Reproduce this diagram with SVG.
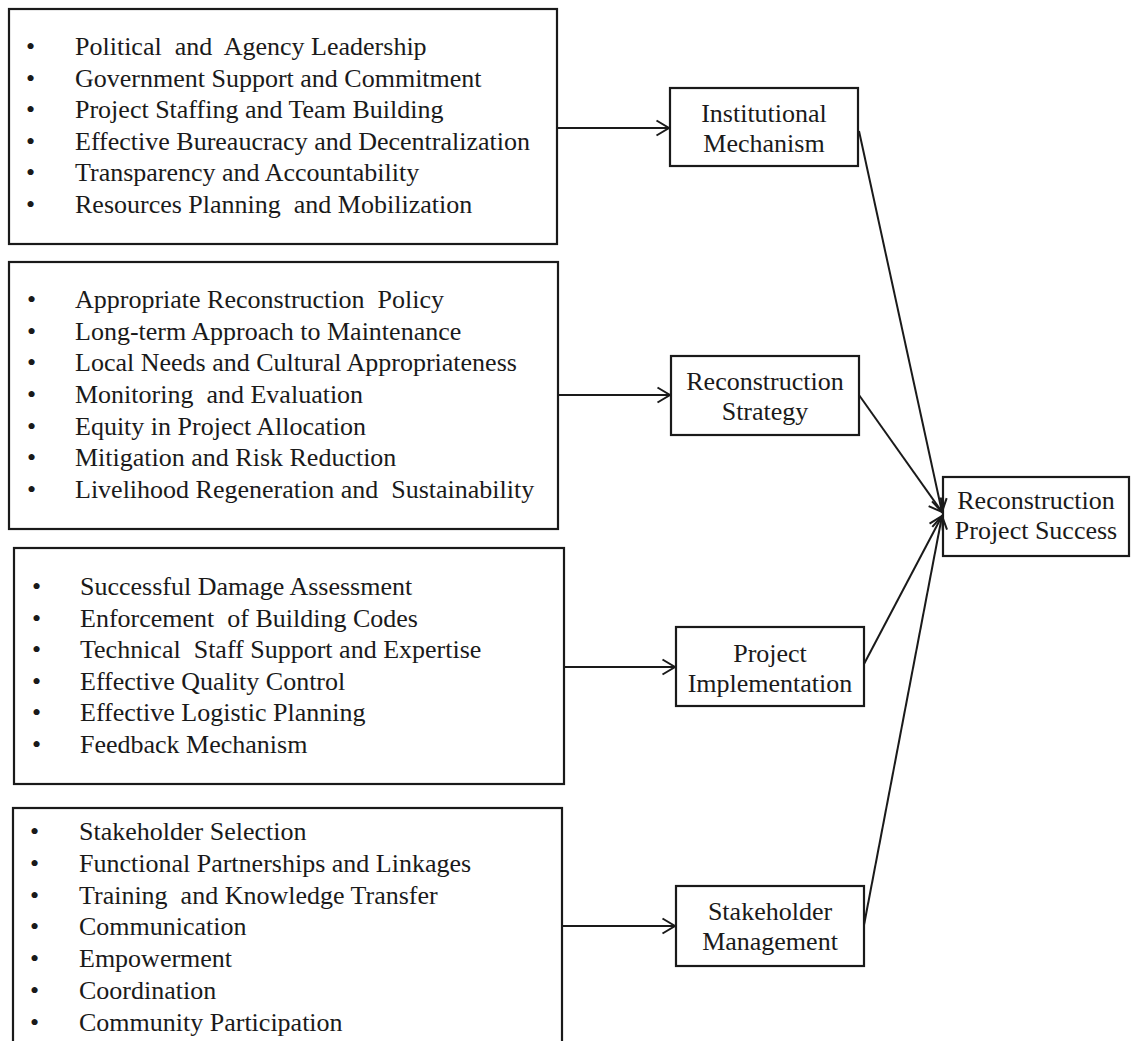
<svg xmlns="http://www.w3.org/2000/svg" width="1134" height="1041" viewBox="0 0 1134 1041">
<style>
  .box { fill: #ffffff; stroke: #1a1a1a; stroke-width: 2.2; }
  text { font-family: "Liberation Serif", "Times New Roman", serif; font-size: 26px; fill: #1a1a1a; white-space: pre; }
  .c { text-anchor: middle; }
  .edge { stroke: #1a1a1a; stroke-width: 2; fill: none; }
</style>
<defs>
  <marker id="arr" markerUnits="userSpaceOnUse" markerWidth="16" markerHeight="18" viewBox="0 0 16 18" refX="14" refY="9" orient="auto">
    <path d="M1.5,1.5 L14,9 L1.5,16.5" fill="none" stroke="#1a1a1a" stroke-width="2"/>
  </marker>
</defs>
<rect width="1134" height="1041" fill="#ffffff"/>

<g id="list-institutional">
  <rect class="box" x="9" y="9" width="548" height="235"/>
  <text x="26" y="55">•</text><text x="75" y="55">Political  and  Agency Leadership</text>
  <text x="26" y="87">•</text><text x="75" y="87">Government Support and Commitment</text>
  <text x="26" y="118">•</text><text x="75" y="118">Project Staffing and Team Building</text>
  <text x="26" y="150">•</text><text x="75" y="150">Effective Bureaucracy and Decentralization</text>
  <text x="26" y="181">•</text><text x="75" y="181">Transparency and Accountability</text>
  <text x="26" y="213">•</text><text x="75" y="213">Resources Planning  and Mobilization</text>
</g>

<g id="list-strategy">
  <rect class="box" x="9" y="262" width="549" height="267"/>
  <text x="27" y="308">•</text><text x="75" y="308">Appropriate Reconstruction  Policy</text>
  <text x="27" y="340">•</text><text x="75" y="340">Long-term Approach to Maintenance</text>
  <text x="27" y="371">•</text><text x="75" y="371">Local Needs and Cultural Appropriateness</text>
  <text x="27" y="403">•</text><text x="75" y="403">Monitoring  and Evaluation</text>
  <text x="27" y="435">•</text><text x="75" y="435">Equity in Project Allocation</text>
  <text x="27" y="466">•</text><text x="75" y="466">Mitigation and Risk Reduction</text>
  <text x="27" y="498">•</text><text x="75" y="498">Livelihood Regeneration and  Sustainability</text>
</g>

<g id="list-implementation">
  <rect class="box" x="14" y="548" width="550" height="236"/>
  <text x="32" y="595">•</text><text x="80" y="595">Successful Damage Assessment</text>
  <text x="32" y="627">•</text><text x="80" y="627">Enforcement  of Building Codes</text>
  <text x="32" y="658">•</text><text x="80" y="658">Technical  Staff Support and Expertise</text>
  <text x="32" y="690">•</text><text x="80" y="690">Effective Quality Control</text>
  <text x="32" y="721">•</text><text x="80" y="721">Effective Logistic Planning</text>
  <text x="32" y="753">•</text><text x="80" y="753">Feedback Mechanism</text>
</g>

<g id="list-stakeholder">
  <rect class="box" x="13" y="808" width="549" height="245"/>
  <text x="30" y="840">•</text><text x="79" y="840">Stakeholder Selection</text>
  <text x="30" y="872">•</text><text x="79" y="872">Functional Partnerships and Linkages</text>
  <text x="30" y="904">•</text><text x="79" y="904">Training  and Knowledge Transfer</text>
  <text x="30" y="935">•</text><text x="79" y="935">Communication</text>
  <text x="30" y="967">•</text><text x="79" y="967">Empowerment</text>
  <text x="30" y="999">•</text><text x="79" y="999">Coordination</text>
  <text x="30" y="1031">•</text><text x="79" y="1031">Community Participation</text>
</g>

<g id="node-institutional">
  <rect class="box" x="670" y="88" width="188" height="78"/>
  <text class="c" x="764" y="122">Institutional</text>
  <text class="c" x="764" y="152">Mechanism</text>
</g>

<g id="node-strategy">
  <rect class="box" x="671" y="356" width="188" height="79"/>
  <text class="c" x="765" y="390">Reconstruction</text>
  <text class="c" x="765" y="420">Strategy</text>
</g>

<g id="node-implementation">
  <rect class="box" x="676" y="627" width="188" height="79"/>
  <text class="c" x="770" y="662">Project</text>
  <text class="c" x="770" y="692">Implementation</text>
</g>

<g id="node-stakeholder">
  <rect class="box" x="676" y="886" width="188" height="80"/>
  <text class="c" x="770" y="920">Stakeholder</text>
  <text class="c" x="770" y="950">Management</text>
</g>

<g id="node-success">
  <rect class="box" x="943" y="477" width="186" height="79"/>
  <text class="c" x="1036" y="509">Reconstruction</text>
  <text class="c" x="1036" y="539">Project Success</text>
</g>

<g id="connectors">
  <line class="edge" x1="557" y1="128" x2="669" y2="128" marker-end="url(#arr)"/>
  <line class="edge" x1="558" y1="395" x2="670" y2="395" marker-end="url(#arr)"/>
  <line class="edge" x1="564" y1="667" x2="675" y2="667" marker-end="url(#arr)"/>
  <line class="edge" x1="562" y1="926" x2="675" y2="926" marker-end="url(#arr)"/>
  <line class="edge" x1="859" y1="131" x2="942" y2="512" marker-end="url(#arr)"/>
  <line class="edge" x1="859" y1="395" x2="942" y2="512" marker-end="url(#arr)"/>
  <line class="edge" x1="864" y1="664" x2="942" y2="516" marker-end="url(#arr)"/>
  <line class="edge" x1="864" y1="925" x2="942" y2="516" marker-end="url(#arr)"/>
</g>
</svg>
